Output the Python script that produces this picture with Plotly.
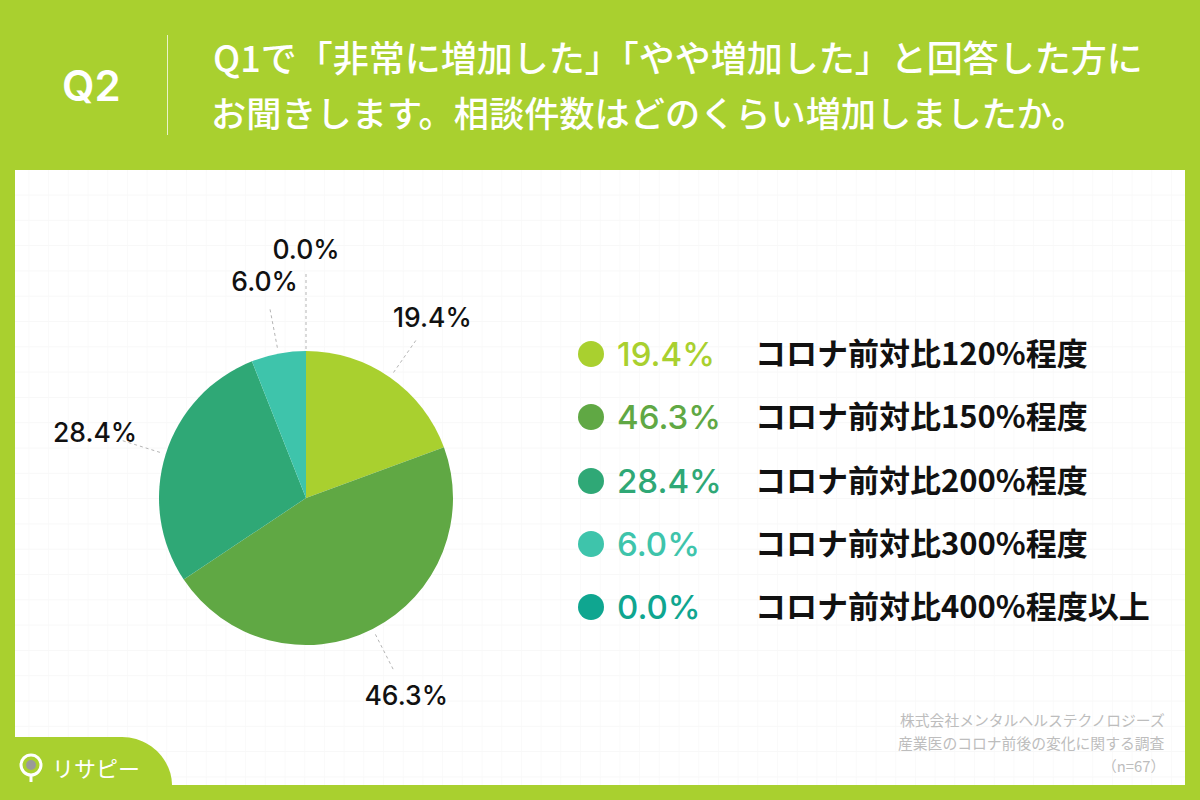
import math
import plotly.graph_objects as go

GREEN = "#A9D02F"
categories = ["コロナ前対比120%程度", "コロナ前対比150%程度", "コロナ前対比200%程度",
              "コロナ前対比300%程度", "コロナ前対比400%程度以上"]
values = [19.4, 46.3, 28.4, 6.0, 0.0]
colors = ["#A9D02F", "#60A844", "#2FA876", "#3EC4AB", "#0FA690"]
legend_rows = [354, 417, 481, 544, 607]
title_lines = ["Q1で「非常に増加した」「やや増加した」と回答した方に",
               "お聞きします。相談件数はどのくらい増加しましたか。"]
source_lines = ["株式会社メンタルヘルステクノロジーズ", "産業医のコロナ前後の変化に関する調査", "（n=67）"]

CX, CY, R = 306, 498, 147
JP = "Noto Sans CJK JP"
NUM = "Inter"
TEXT_DY = 3.5

fig = go.Figure()

fig.add_trace(go.Pie(values=values, labels=categories, sort=False, direction="clockwise",
                     rotation=0, marker=dict(colors=colors, line=dict(width=0)),
                     textinfo="none", hoverinfo="label+percent", showlegend=False,
                     domain=dict(x=[(CX - R) / 1200, (CX + R) / 1200],
                                 y=[1 - (CY + R) / 800, 1 - (CY - R) / 800])))

cum = 0
for v in values:
    mid = (cum + v / 2) / sum(values) * 2 * math.pi
    cum += v
    s, c = math.sin(mid), math.cos(mid)
    zero = v == 0
    r_label = 249 if zero else 221
    r_end = 225 if zero else 194
    r_start = 149 if zero else 153
    fig.add_trace(go.Scatter(x=[CX + r_start * s, CX + r_end * s], y=[CY - r_start * c, CY - r_end * c],
                             mode="lines", line=dict(color="#b5b5b5", width=1, dash="dot"),
                             hoverinfo="skip", showlegend=False))
    fig.add_trace(go.Scatter(x=[CX + r_label * s], y=[CY - r_label * c + TEXT_DY], mode="text",
                             text=[f"{v:.1f}%"], textposition="middle center",
                             textfont=dict(family=NUM, size=26.5, weight=500, color="#111111"),
                             hoverinfo="skip", showlegend=False))

fig.add_trace(go.Scatter(x=[591] * 5, y=legend_rows, mode="markers",
                         marker=dict(size=26, color=colors, line=dict(width=0)),
                         hoverinfo="skip", showlegend=False))
fig.add_trace(go.Scatter(x=[617] * 5, y=[r + TEXT_DY for r in legend_rows], mode="text",
                         text=[f"{v:.1f}%" for v in values], textposition="middle right",
                         textfont=dict(family=NUM, size=33, weight=500, color=colors),
                         hoverinfo="skip", showlegend=False))
fig.add_trace(go.Scatter(x=[755] * 5, y=[r + TEXT_DY for r in legend_rows], mode="text",
                         text=[f"<b>{c}</b>" for c in categories], textposition="middle right",
                         textfont=dict(family=JP, size=31, color="#111111"),
                         hoverinfo="skip", showlegend=False))

shapes = [dict(type="rect", x0=15, x1=1185, y0=170, y1=785, fillcolor="white",
               line=dict(width=0), layer="below")]
gx = 501.7 - 19.7 * 24
while gx < 1185:
    shapes.append(dict(type="line", x0=gx, x1=gx, y0=170, y1=785, layer="below",
                       line=dict(color="#FAFAFA", width=1)))
    gx += 19.7
gy = 195.0
while gy < 785:
    shapes.append(dict(type="line", x0=15, x1=1185, y0=gy, y1=gy, layer="below",
                       line=dict(color="#F8F8F8", width=1)))
    gy += 25.3
shapes.append(dict(type="path", layer="below", fillcolor=GREEN, line=dict(width=0),
                   path="M 15 737 L 122 737 C 150 737 172 760 172 785 L 15 785 Z"))
shapes.append(dict(type="line", x0=167.5, x1=167.5, y0=35, y1=135, layer="below",
                   line=dict(color="#EAF3C8", width=1)))
shapes.append(dict(type="circle", x0=21, x1=41, y0=755, y1=775, layer="below",
                   fillcolor=GREEN, line=dict(color="white", width=3)))
shapes.append(dict(type="line", x0=31, x1=31, y0=775, y1=782, layer="below",
                   line=dict(color="white", width=3)))
shapes.append(dict(type="circle", x0=26, x1=36, y0=760, y1=770, layer="below",
                   fillcolor="#9A9A9A", line=dict(width=0)))

anns = [dict(x=91, y=85, text="Q2", font=dict(family=NUM, size=42, weight=600, color="white"),
             showarrow=False, xanchor="center", yanchor="middle")]
for line, x, y, size in zip(title_lines, [211, 209], [56, 111], [36, 35.2]):
    anns.append(dict(x=x, y=y, text=line, showarrow=False, xanchor="left", yanchor="middle",
                     font=dict(family=JP, size=size, weight=500, color="white")))
for line, y in zip(source_lines, [719, 742, 765]):
    anns.append(dict(x=1167, y=y, text=line, showarrow=False, xanchor="right", yanchor="middle",
                     font=dict(family=JP, size=14.8, color="#BDBDBD")))
anns.append(dict(x=50, y=767, text="リサピー", showarrow=False, xanchor="left", yanchor="middle",
                 font=dict(family=JP, size=22, color="white")))

for a in anns:
    a["xref"] = "x"
    a["yref"] = "y"

fig.update_layout(width=1200, height=800, margin=dict(l=0, r=0, t=0, b=0), autosize=False,
                  paper_bgcolor=GREEN, plot_bgcolor="rgba(0,0,0,0)", shapes=shapes, annotations=anns,
                  xaxis=dict(range=[0, 1200], visible=False, fixedrange=True),
                  yaxis=dict(range=[800, 0], visible=False, fixedrange=True))
fig.write_html("out.html", config=dict(displayModeBar=False),
               post_script="document.body.style.margin='0';document.body.style.overflow='hidden';")
